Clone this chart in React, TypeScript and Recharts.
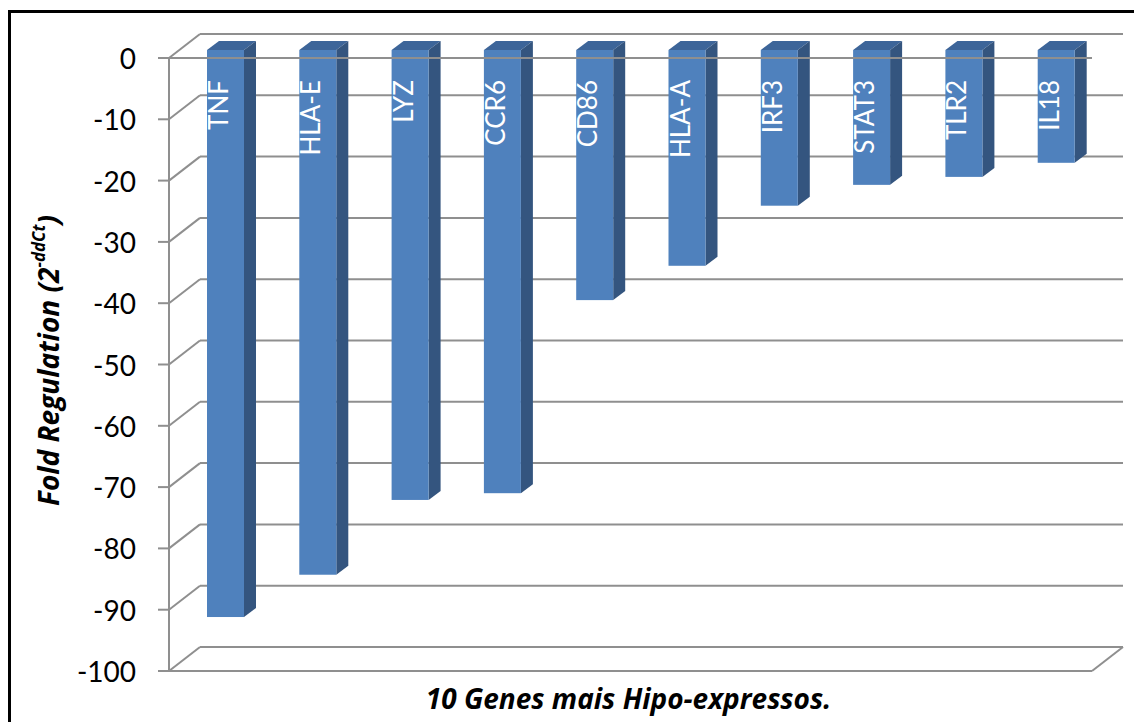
import { BarChart, Bar, XAxis, YAxis, CartesianGrid, ReferenceLine } from 'recharts';

// 10 most down-regulated genes
const genes = ['TNF', 'HLA-E', 'LYZ', 'CCR6', 'CD86', 'HLA-A', 'IRF3', 'STAT3', 'TLR2', 'IL18'];
const foldRegulation = [-92.5, -85.6, -73.4, -72.3, -40.8, -35.2, -25.4, -22.0, -20.7, -18.4];
const yTicks = [0, -10, -20, -30, -40, -50, -60, -70, -80, -90, -100];

const data = genes.map((gene, i) => ({ gene, value: foldRegulation[i] }));

const W = 1134;
const H = 722;
const Y_AXIS_W = 60;
const X_AXIS_H = 40;
const MARGIN = { top: 50, right: 32, left: 119, bottom: 19 };

// fake 3d: offsets from the bar plane to the front edge / back wall
const FRONT = { dx: -10, dy: 8 };
const BACK = { dx: 21, dy: -16 };
const BAR_DEPTH = { dx: 12, dy: -9 };

const GRID = '#8f8f8f';
const FONT = 'Lato, "Open Sans", sans-serif';
const TITLE_FONT = '"Open Sans", Lato, sans-serif';

const shift = `translate(${FRONT.dx}, ${FRONT.dy})`;

// back wall gridline + side wall diagonal
const WallLine = (props: any) => {
  const { x1, x2, y1 } = props;
  return (
    <g key={`wall-${y1}`}>
      <line x1={x1 + FRONT.dx} y1={y1 + FRONT.dy} x2={x1 + BACK.dx} y2={y1 + BACK.dy} stroke={GRID} strokeWidth={2} />
      <line x1={x1 + BACK.dx} y1={y1 + BACK.dy} x2={x2 + BACK.dx} y2={y1 + BACK.dy} stroke={GRID} strokeWidth={2} />
    </g>
  );
};

const FrontEdge = (props: any) => {
  const { x1, x2, y1 } = props;
  return <line x1={x1 + FRONT.dx} y1={y1 + FRONT.dy} x2={x2 + FRONT.dx} y2={y1 + FRONT.dy} stroke={GRID} strokeWidth={2} />;
};

const FloorEdge = (props: any) => {
  const { x1, x2, y1 } = props;
  return (
    <g>
      <line x1={x1 + FRONT.dx} y1={y1 + FRONT.dy} x2={x2 + FRONT.dx} y2={y1 + FRONT.dy} stroke={GRID} strokeWidth={2} />
      <line x1={x2 + FRONT.dx} y1={y1 + FRONT.dy} x2={x2 + BACK.dx} y2={y1 + BACK.dy} stroke={GRID} strokeWidth={2} />
    </g>
  );
};

const AxisTick = ({ x, y, payload }: any) => (
  <text
    x={x + FRONT.dx}
    y={y + FRONT.dy}
    textAnchor="end"
    dominantBaseline="central"
    fontFamily={FONT}
    fontSize={28}
    fill="#000"
  >
    {payload.value}
  </text>
);

const Bar3D = (props: any) => {
  const { x, y, width, height, payload } = props;
  const top = Math.min(y, y + height);
  const bot = Math.max(y, y + height);
  const r = x + width;
  const { dx, dy } = BAR_DEPTH;
  const cx = x + width / 2 - 7.5;
  const ly = top + 30;
  return (
    <g>
      <polygon points={`${x},${top} ${r},${top} ${r + dx},${top + dy} ${x + dx},${top + dy}`} fill="#3D6599" />
      <polygon points={`${r},${top} ${r + dx},${top + dy} ${r + dx},${bot + dy} ${r},${bot}`} fill="#34557F" />
      <rect x={x} y={top} width={width} height={bot - top} fill="#4F81BD" />
      {/* front edge of the zero floor passes in front of the bar */}
      <line x1={x} y1={top + FRONT.dy} x2={r + dx} y2={top + FRONT.dy} stroke={GRID} strokeWidth={2} />
      <text
        x={cx}
        y={ly}
        transform={`rotate(-90, ${cx}, ${ly})`}
        textAnchor="end"
        dominantBaseline="central"
        fontFamily={FONT}
        fontSize={26}
        fill="#fff"
      >
        {payload.gene}
      </text>
    </g>
  );
};

const XTitle = ({ viewBox }: any) => (
  <text
    x={viewBox.x + viewBox.width / 2 - 12}
    y={viewBox.y + 46}
    textAnchor="middle"
    fontFamily={TITLE_FONT}
    fontSize={28}
    fontWeight="bold"
    fontStyle="italic"
    fill="#000"
  >
    10 Genes mais Hipo-expressos.
  </text>
);

const YTitle = ({ viewBox }: any) => {
  const tx = viewBox.x - 71;
  const ty = viewBox.y + viewBox.height / 2 + 4;
  return (
    <text
      x={tx}
      y={ty}
      transform={`rotate(-90, ${tx}, ${ty})`}
      textAnchor="middle"
      dominantBaseline="central"
      fontFamily={TITLE_FONT}
      fontSize={28}
      fontWeight="bold"
      fontStyle="italic"
      fill="#000"
    >
      Fold Regulation (2
      <tspan fontSize={17} dy={-10}>-ddCt</tspan>
      <tspan dy={10}>)</tspan>
    </text>
  );
};

export default function App() {
  return (
    <div style={{ position: 'fixed', left: 0, top: 0, width: W, height: H, overflow: 'hidden', background: '#fff' }}>
      <div
        style={{
          position: 'absolute',
          left: 8,
          top: 10,
          width: W + 40,
          height: H + 40,
          border: '3px solid #000',
        }}
      />
      <div style={{ position: 'absolute', left: 0, top: 0 }}>
        <BarChart width={W} height={H} data={data} margin={MARGIN} barSize={37}>
          <CartesianGrid vertical={false} horizontal={WallLine} />
          <XAxis dataKey="gene" height={X_AXIS_H} tick={false} tickLine={false} axisLine={false} label={<XTitle />} />
          <YAxis
            type="number"
            domain={[-100, 0]}
            ticks={yTicks}
            interval={0}
            width={Y_AXIS_W}
            tickSize={11}
            tickMargin={22}
            axisLine={{ stroke: GRID, strokeWidth: 2, transform: shift }}
            tickLine={{ stroke: GRID, strokeWidth: 2, transform: shift }}
            tick={<AxisTick />}
            label={<YTitle />}
          />
          <Bar dataKey="value" shape={<Bar3D />} isAnimationActive={false} />
          <ReferenceLine y={-100} shape={FloorEdge} />
          <ReferenceLine y={0} shape={FrontEdge} />
        </BarChart>
      </div>
    </div>
  );
}
